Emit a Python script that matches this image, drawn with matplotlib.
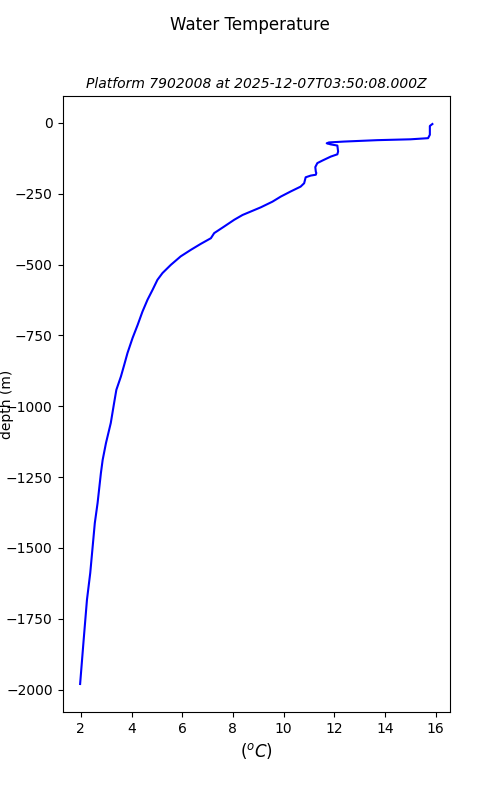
import matplotlib
matplotlib.use("Agg")
import matplotlib.pyplot as plt

platform = "7902008"
timestamp = "2025-12-07T03:50:08.000Z"

# temperature (degC) and depth (m, negative down)
temp = [15.87, 15.77, 15.77, 15.70, 15.01, 13.70, 12.38, 11.79, 11.70, 11.86,
        12.12, 12.15, 12.12, 11.86, 11.53, 11.33, 11.25, 11.27, 11.29, 11.27,
        11.07, 10.87, 10.81, 10.67, 10.28, 9.89, 9.56, 9.10, 8.70, 8.38,
        8.05, 7.65, 7.26, 7.13, 6.73, 6.34, 5.94, 5.55, 5.22, 5.02,
        4.83, 4.63, 4.43, 4.24, 4.04, 3.84, 3.71, 3.58, 3.40, 3.31,
        3.18, 2.99, 2.86, 2.79, 2.66, 2.55, 2.46, 2.37, 2.24, 2.11, 1.97]
depth = [-4, -11, -42, -54, -58, -61, -66, -69, -72, -76,
         -80, -101, -111, -119, -133, -142, -156, -172, -177, -183,
         -186, -192, -213, -225, -242, -260, -278, -298, -313, -325,
         -342, -366, -389, -407, -427, -448, -471, -501, -530, -554,
         -589, -624, -666, -713, -759, -812, -854, -895, -942, -989,
         -1059, -1130, -1189, -1236, -1341, -1412, -1500, -1588, -1683, -1824, -1980]

fig = plt.figure(figsize=(5, 8), dpi=100)
ax = fig.add_subplot(111)
ax.plot(temp, depth, color='blue')
ax.set_title('Platform %s at %s' % (platform, timestamp), fontsize=10, style='italic')
ax.set_xlabel('($^oC$)', fontsize=12)
ax.set_ylabel('depth (m)')
ax.yaxis.set_label_coords(-0.126, 0.5)
fig.suptitle('Water Temperature', fontsize=12)
fig.savefig('out.png')
